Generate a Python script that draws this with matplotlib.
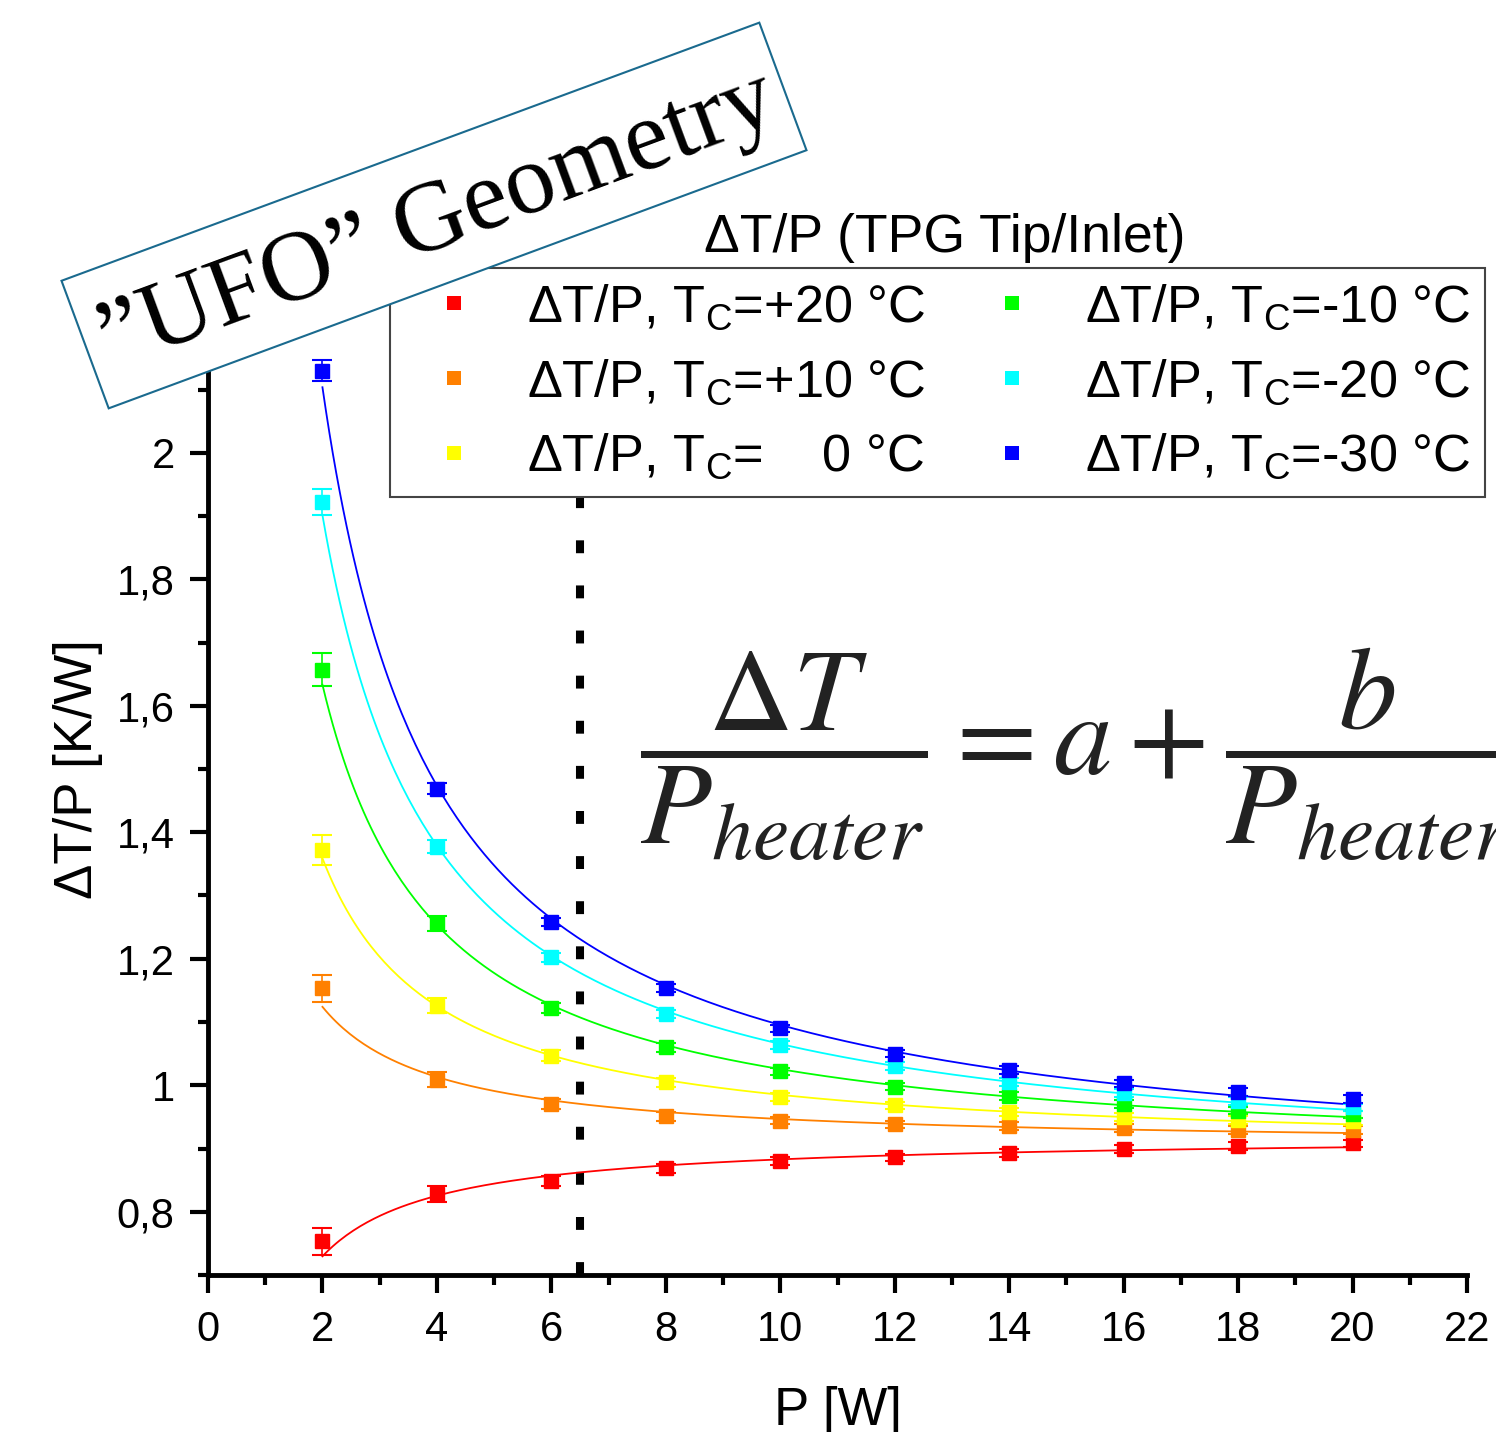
import numpy as np
import matplotlib
matplotlib.use("Agg")
import matplotlib.pyplot as plt
from matplotlib.lines import Line2D
from matplotlib.patches import Polygon
from matplotlib.ticker import MultipleLocator, FuncFormatter

plt.rcParams['font.family'] = ['Liberation Sans', 'DejaVu Sans']

# Heater power [W]
power = np.array([2, 4, 6, 8, 10, 12, 14, 16, 18, 20])

# dT/P [K/W] for each coolant temperature
dtp_p20 = [0.753, 0.828, 0.849, 0.869, 0.880, 0.886, 0.893, 0.899, 0.904, 0.908]
dtp_p10 = [1.153, 1.009, 0.970, 0.951, 0.944, 0.938, 0.936, 0.932, 0.929, 0.929]
dtp_0 = [1.372, 1.126, 1.047, 1.005, 0.981, 0.968, 0.958, 0.950, 0.945, 0.943]
dtp_m10 = [1.657, 1.256, 1.122, 1.060, 1.022, 0.998, 0.983, 0.970, 0.960, 0.954]
dtp_m20 = [1.922, 1.377, 1.202, 1.113, 1.064, 1.030, 1.005, 0.988, 0.975, 0.965]
dtp_m30 = [2.130, 1.469, 1.258, 1.154, 1.090, 1.050, 1.024, 1.003, 0.989, 0.978]

# uncertainties
err_p20 = [0.021, 0.012, 0.008, 0.007, 0.006, 0.006, 0.006, 0.006, 0.006, 0.006]
err_p10 = [0.021, 0.012, 0.008, 0.007, 0.006, 0.006, 0.006, 0.006, 0.006, 0.006]
err_0 = [0.024, 0.012, 0.008, 0.007, 0.006, 0.006, 0.006, 0.006, 0.006, 0.006]
err_m10 = [0.026, 0.012, 0.008, 0.007, 0.006, 0.006, 0.006, 0.006, 0.006, 0.006]
err_m20 = [0.021, 0.010, 0.007, 0.006, 0.006, 0.006, 0.006, 0.006, 0.006, 0.006]
err_m30 = [0.016, 0.009, 0.006, 0.006, 0.006, 0.006, 0.006, 0.006, 0.006, 0.006]

labels = [r'ΔT/P, T$_\mathregular{C}$=+20 °C',
          r'ΔT/P, T$_\mathregular{C}$=+10 °C',
          r'ΔT/P, T$_\mathregular{C}$=    0 °C',
          r'ΔT/P, T$_\mathregular{C}$=-10 °C',
          r'ΔT/P, T$_\mathregular{C}$=-20 °C',
          r'ΔT/P, T$_\mathregular{C}$=-30 °C']
colors = ['#ff0000', '#ff8000', '#ffff00', '#00ff00', '#00ffff', '#0000ff']
series = [dtp_p20, dtp_p10, dtp_0, dtp_m10, dtp_m20, dtp_m30]
errors = [err_p20, err_p10, err_0, err_m10, err_m20, err_m30]

W, H = 1496, 1432
fig = plt.figure(figsize=(W / 100, H / 100), dpi=100)
ax = fig.add_axes([208 / W, 157 / H, (1467 - 208) / W, (1275 - 263) / H])

p_fine = np.linspace(power.min(), power.max(), 300)
for y, e, c in zip(series, errors, colors):
    y = np.asarray(y)
    e = np.asarray(e)
    # fit dT/P = a + b/P
    b, a = np.polyfit(1 / power, y, 1, w=1 / e)
    ax.plot(p_fine, a + b / p_fine, color=c, lw=1.3, zorder=2)
    ax.errorbar(power, y, yerr=e, fmt='s', color=c, ms=9.5, mec=c,
                elinewidth=1.2, capsize=7.5, capthick=1.5, zorder=3)

ax.axvline(6.5, color='black', lw=5.8, ls=(0, (1.6, 4)), dash_capstyle='butt', zorder=1)

ax.set_xlim(0, 22)
ax.set_ylim(0.7, 2.3)
ax.xaxis.set_major_locator(MultipleLocator(2))
ax.xaxis.set_minor_locator(MultipleLocator(1))
ax.yaxis.set_major_locator(MultipleLocator(0.2))
ax.yaxis.set_minor_locator(MultipleLocator(0.1))
ax.yaxis.set_major_formatter(FuncFormatter(lambda v, pos: f'{v:g}'.replace('.', ',')))
ax.xaxis.set_major_formatter(FuncFormatter(lambda v, pos: f'{v:g}'))

for s in ['top', 'right']:
    ax.spines[s].set_visible(False)
for s in ['left', 'bottom']:
    ax.spines[s].set_linewidth(3.5)
ax.tick_params(which='major', direction='out', length=13, width=3, labelsize=30)
ax.tick_params(which='minor', direction='out', length=7, width=3)
ax.tick_params(axis='x', which='major', pad=12)
ax.tick_params(axis='y', which='major', pad=11)

ax.set_xlabel('P [W]', fontsize=38, labelpad=26)
ax.set_ylabel('ΔT/P [K/W]', fontsize=38, labelpad=10)

handles = [Line2D([], [], ls='none', marker='s', ms=9.5, mew=0, color=c) for c in colors]
leg = ax.legend(handles, labels, ncol=2, loc='upper left',
                bbox_to_anchor=(390 / W, 1 - 268 / H), bbox_transform=fig.transFigure,
                fontsize=37.7, frameon=True, fancybox=False, framealpha=1,
                borderpad=0.28, handlelength=1.88, handletextpad=0.45,
                columnspacing=0.72, labelspacing=0.48, borderaxespad=0)
leg.get_frame().set_edgecolor('#444444')
leg.get_frame().set_linewidth(1.5)
fig.text(945 / W, 1 - 238 / H, 'ΔT/P (TPG Tip/Inlet)', fontsize=38.5,
         ha='center', va='center')

# fit model
fig.text(640 / W, 1 - 754 / H,
         r'$\dfrac{\Delta T}{P_{heater}} = a + \dfrac{b}{P_{heater}}$',
         fontsize=84, math_fontfamily='stix', color='#222222',
         ha='left', va='center')

# rotated title box
cx, cy = 434, H - 215.5
bw, bh, ang = 744, 136, np.deg2rad(20.3)
ux = np.array([np.cos(ang), np.sin(ang)])
uy = np.array([-np.sin(ang), np.cos(ang)])
corners = [np.array([cx, cy]) + sx * bw / 2 * ux + sy * bh / 2 * uy
           for sx, sy in [(-1, -1), (1, -1), (1, 1), (-1, 1)]]
corners = [(px / W, py / H) for px, py in corners]
fig.patches.append(Polygon(corners, closed=True, transform=fig.transFigure,
                           facecolor='white', edgecolor='#1a6a8e', lw=1.5, zorder=10))
fig.text((cx + 4) / W, (cy - 6) / H, '”UFO” Geometry', family='Liberation Serif', fontsize=72,
         rotation=20.3, rotation_mode='anchor', ha='center', va='center', zorder=11)

fig.savefig('out.png', dpi=100)
